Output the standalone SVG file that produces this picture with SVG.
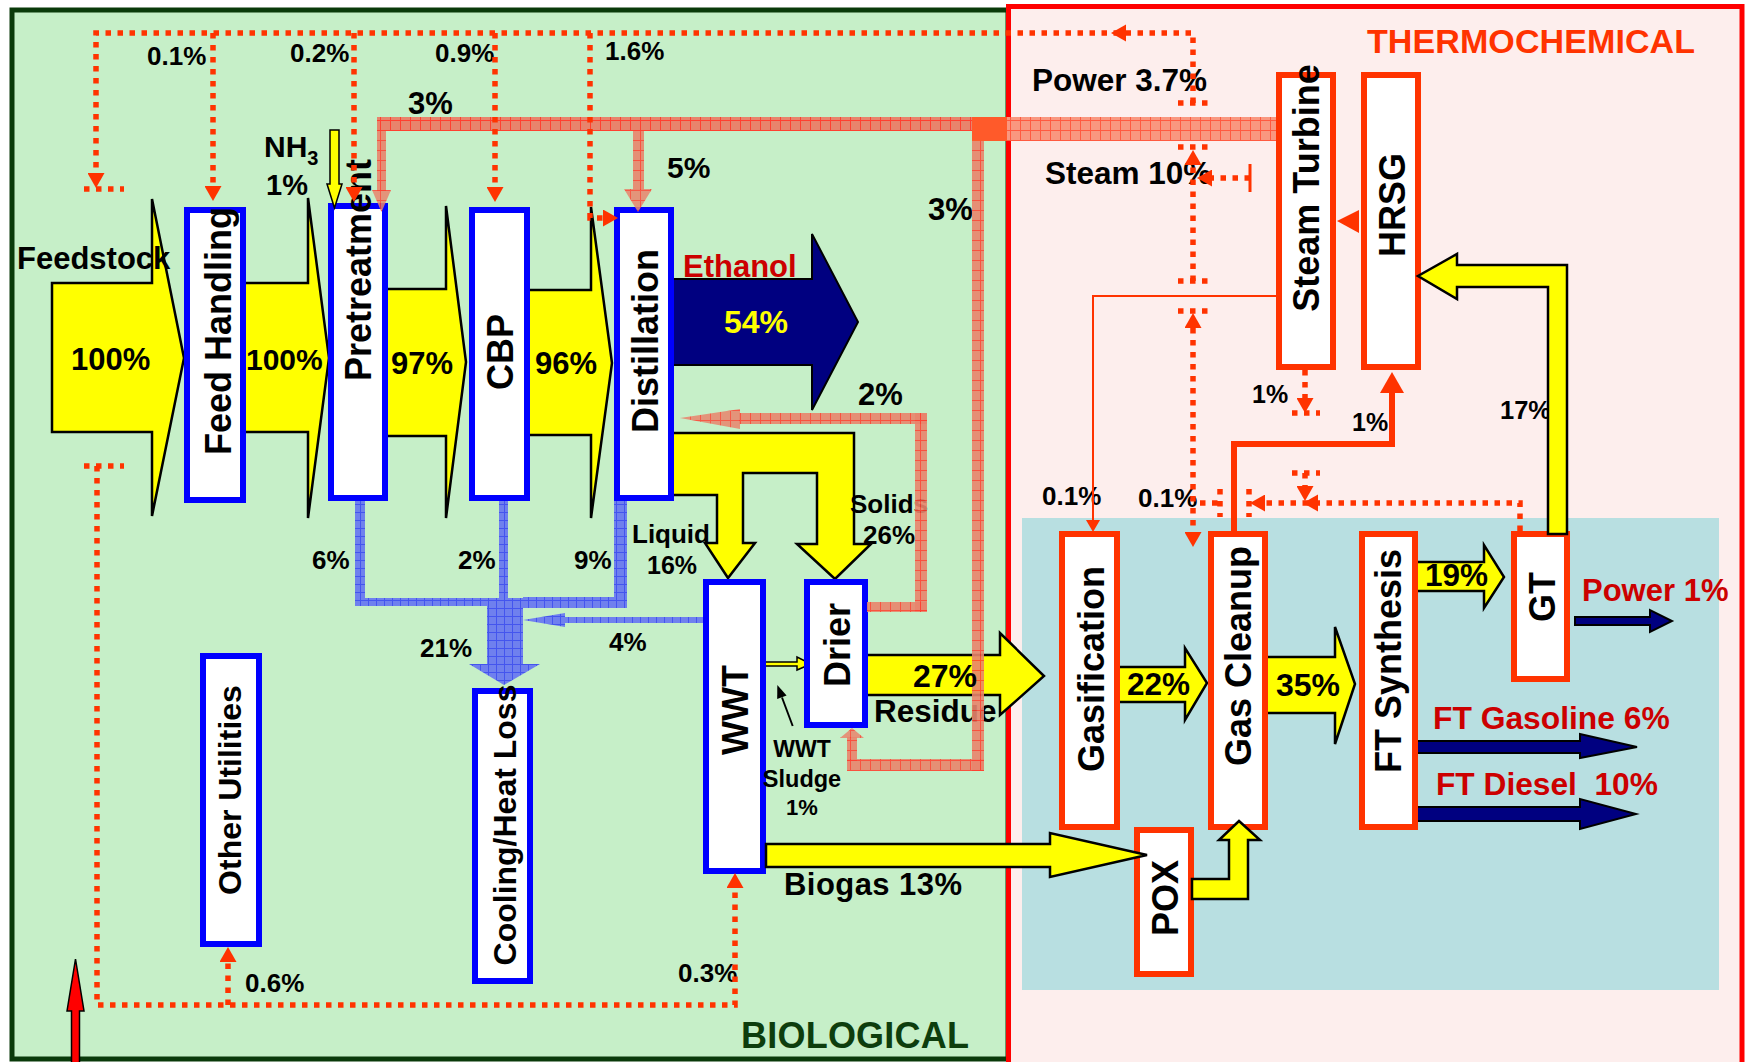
<svg xmlns="http://www.w3.org/2000/svg" width="1745" height="1062" viewBox="0 0 1745 1062">
<defs>
<style>
.nb{fill:#fff;stroke:#0000ff;stroke-width:6}
.nr{fill:#fff;stroke:#ff3300;stroke-width:6}
.nl{font-family:"Liberation Sans",Arial,sans-serif;font-weight:bold;font-size:36px;fill:#000;text-anchor:middle}
.t{font-family:"Liberation Sans",Arial,sans-serif;font-weight:bold;fill:#000}
.rd{fill:#cc0000}
.y{fill:#ffff00;stroke:#000;stroke-width:2.5}
.nv{fill:#000080;stroke:#000;stroke-width:2}
.dot{fill:none;stroke:#ff3300;stroke-width:5.5;stroke-dasharray:5.5 6.5}
.ah{fill:#ff3300}
.sol{fill:none;stroke:#ff3300}
.steam{fill:url(#hR)}
.steam2{fill:url(#hR2)}
.cool{fill:url(#hB)}
</style>
<pattern id="hR" width="10" height="10" patternUnits="userSpaceOnUse"><rect width="10" height="10" fill="#e8846c"/><path d="M0,0.5H10M0.5,0V10" stroke="#ff4030" stroke-width="1"/></pattern>
<pattern id="hR2" width="10" height="10" patternUnits="userSpaceOnUse"><rect width="10" height="10" fill="#f9977f"/><path d="M0,0.5H10M0.5,0V10" stroke="#ff5a40" stroke-width="1"/></pattern>
<pattern id="hB" width="8" height="8" patternUnits="userSpaceOnUse"><rect width="8" height="8" fill="#6f80ee"/><path d="M0,0.5H8M0.5,0V8" stroke="#4455ee" stroke-width="1"/></pattern>
<marker id="da" viewBox="0 0 15 17" markerWidth="15" markerHeight="17" refX="0" refY="8.5" orient="auto-start-reverse" markerUnits="userSpaceOnUse"><path d="M0,0L15,8.5L0,17z" fill="#ff3300"/></marker>
<marker id="sa" viewBox="0 0 12 14" markerWidth="12" markerHeight="14" refX="0" refY="7" orient="auto" markerUnits="userSpaceOnUse"><path d="M0,0L12,7L0,14z" fill="#ff3300"/></marker>
</defs>
<rect width="1745" height="1062" fill="#fff"/>
<g id="regions">
<rect x="12" y="10" width="996" height="1049" fill="#c6efc8" stroke="#0a3a0a" stroke-width="5"/>
<rect x="1008.5" y="6.5" width="733.5" height="1070" fill="#fdeeed" stroke="#ff0000" stroke-width="5"/>
<rect x="1022" y="518" width="697" height="472" fill="#b8dfe1"/>
<text class="t" x="741" y="1048" font-size="36" style="fill:#0d3d0d" textLength="228">BIOLOGICAL</text>
<text class="t" x="1367" y="53" font-size="34" style="fill:#ff3300" textLength="328">THERMOCHEMICAL</text>
</g>
<g id="connectors-under">
<polygon class="y" points="52,283 152,283 152,199 184,358 152,516 152,432 52,432"/>
<polygon class="y" points="244,283 308,283 308,198 329,358 308,518 308,432 244,432"/>
<polygon class="y" points="385,289 446,289 446,206 466,362 446,518 446,436 385,436"/>
<polygon class="y" points="528,290 591,290 591,207 612,363 591,518 591,435 528,435"/>
<polygon class="nv" points="672,279 812,279 812,234 858,322 812,410 812,365 672,365"/>
<polygon class="y" points="672,433 854,433 854,544 871,544 835,579 797,544 817,544 817,473 743,473 743,543 755,543 728,578 705,543 717,543 717,495 672,495"/>
<polygon class="y" points="866,655 1000,655 1000,633 1044,676 1000,715 1000,695 866,695"/>
<polygon class="y" points="1118,667 1185,667 1185,648 1207,683 1185,720 1185,702 1118,702"/>
<polygon class="y" points="1266,657 1335,657 1335,627 1355,684 1335,744 1335,713 1266,713"/>
<polygon class="y" points="1416,562 1484,562 1484,545 1504,577 1484,608 1484,591 1416,591"/>
<polygon class="nv" points="1575,617 1650,617 1650,610 1672,621 1650,632 1650,625 1575,625"/>
<polygon class="nv" points="1416,741 1580,741 1580,734 1637,747 1580,758 1580,753 1416,753"/>
<polygon class="nv" points="1416,807 1580,807 1580,799 1636,814 1580,829 1580,821 1416,821"/>
<polygon class="y" style="stroke-width:1.5" points="764,662 797,662 797,657 811,664 797,670 797,666 764,666"/>
</g>
<g id="nodes">
<g id="feed-handling"><rect class="nb" x="187" y="210" width="56" height="290"/><text class="nl" transform="translate(231,331) rotate(-90)">Feed Handling</text></g>
<g id="pretreatment"><rect class="nb" x="331" y="206" width="54" height="292"/><text class="nl" transform="translate(371,270) rotate(-90)">Pretreatment</text></g>
<g id="cbp"><rect class="nb" x="472" y="210" width="55" height="288"/><text class="nl" transform="translate(513,352) rotate(-90)">CBP</text></g>
<g id="distillation"><rect class="nb" x="617" y="210" width="54" height="288"/><text class="nl" transform="translate(658,341) rotate(-90)">Distillation</text></g>
<g id="other-utilities"><rect class="nb" x="203" y="656" width="56" height="288"/><text class="nl" style="font-size:32px" transform="translate(241,790) rotate(-90)">Other Utilities</text></g>
<g id="cooling-heat-loss"><rect class="nb" x="475" y="691" width="55" height="290"/><text class="nl" style="font-size:32px" transform="translate(516,825) rotate(-90)">Cooling/Heat Loss</text></g>
<g id="wwt"><rect class="nb" x="706" y="582" width="57" height="289"/><text class="nl" transform="translate(748,710) rotate(-90)">WWT</text></g>
<g id="drier"><rect class="nb" x="807" y="582" width="58" height="143"/><text class="nl" transform="translate(850,645) rotate(-90)">Drier</text></g>
<g id="steam-turbine"><rect class="nr" x="1279" y="75" width="54" height="292"/><text class="nl" transform="translate(1319,188) rotate(-90)">Steam Turbine</text></g>
<g id="hrsg"><rect class="nr" x="1364" y="75" width="54" height="292"/><text class="nl" transform="translate(1405,205) rotate(-90)">HRSG</text></g>
<g id="gasification"><rect class="nr" x="1062" y="534" width="55" height="293"/><text class="nl" transform="translate(1104,669) rotate(-90)">Gasification</text></g>
<g id="gas-cleanup"><rect class="nr" x="1211" y="534" width="54" height="293"/><text class="nl" transform="translate(1251,656) rotate(-90)">Gas Cleanup</text></g>
<g id="ft-synthesis"><rect class="nr" x="1362" y="534" width="53" height="293"/><text class="nl" transform="translate(1401,661) rotate(-90)">FT Synthesis</text></g>
<g id="gt"><rect class="nr" x="1514" y="534" width="53" height="145"/><text class="nl" transform="translate(1555,597) rotate(-90)">GT</text></g>
<g id="pox"><rect class="nr" x="1137" y="830" width="54" height="144"/><text class="nl" transform="translate(1178,898) rotate(-90)">POX</text></g>
</g>
<g id="labels">
<text class="t" x="17" y="269" font-size="31">Feedstock</text>
<text class="t" x="147" y="65" font-size="26">0.1%</text>
<text class="t" x="290" y="62" font-size="26">0.2%</text>
<text class="t" x="435" y="62" font-size="26">0.9%</text>
<text class="t" x="605" y="60" font-size="26">1.6%</text>
<text class="t" x="408" y="114" font-size="31">3%</text>
<text class="t" x="264" y="157" font-size="30">NH<tspan font-size="20" dy="8">3</tspan></text>
<text class="t" x="266" y="195" font-size="29">1%</text>
<text class="t" x="667" y="178" font-size="30">5%</text>
<text class="t" x="928" y="220" font-size="31">3%</text>
<text class="t rd" x="683" y="277" font-size="31">Ethanol</text>
<text class="t" x="858" y="405" font-size="31">2%</text>
<text class="t" x="632" y="543" font-size="26">Liquid</text>
<text class="t" x="647" y="574" font-size="25">16%</text>
<text class="t" x="850" y="513" font-size="26">Solids</text>
<text class="t" x="863" y="544" font-size="26">26%</text>
<text class="t" x="312" y="569" font-size="26">6%</text>
<text class="t" x="458" y="569" font-size="26">2%</text>
<text class="t" x="574" y="569" font-size="26">9%</text>
<text class="t" x="420" y="657" font-size="26">21%</text>
<text class="t" x="609" y="651" font-size="26">4%</text>
<text class="t" x="802" y="757" font-size="23" text-anchor="middle">WWT</text>
<text class="t" x="802" y="787" font-size="23.5" text-anchor="middle">Sludge</text>
<text class="t" x="802" y="815" font-size="22" text-anchor="middle">1%</text>
<text class="t" x="874" y="722" font-size="31.5">Residue</text>
<text class="t" x="784" y="895" font-size="31" textLength="178">Biogas 13%</text>
<text class="t" x="245" y="992" font-size="26">0.6%</text>
<text class="t" x="678" y="982" font-size="26">0.3%</text>
<text class="t" x="1032" y="91" font-size="31.5">Power 3.7%</text>
<text class="t" x="1045" y="184" font-size="31.5">Steam 10%</text>
<text class="t" x="1042" y="505" font-size="26">0.1%</text>
<text class="t" x="1138" y="507" font-size="26">0.1%</text>
<text class="t" x="1252" y="403" font-size="25">1%</text>
<text class="t" x="1352" y="431" font-size="25">1%</text>
<text class="t" x="1500" y="419" font-size="25.5">17%</text>
<text class="t rd" x="1582" y="601" font-size="31">Power 1%</text>
<text class="t rd" x="1433" y="729" font-size="31.8">FT Gasoline 6%</text>
<text class="t rd" x="1436" y="795" font-size="31.7" xml:space="preserve">FT Diesel  10%</text>
</g>
<g id="connectors">
<g id="steam-flows">
<rect class="steam" x="377" y="117" width="596" height="14"/>
<rect class="steam" x="377" y="117" width="9" height="74" opacity="0.9"/>
<polygon class="steam" opacity="0.85" points="372,190 391,190 381.5,212"/>
<rect class="steam" x="633" y="117" width="11" height="73" opacity="0.9"/>
<polygon class="steam" opacity="0.85" points="624,189 652,189 638,212"/>
<rect class="steam2" x="984" y="117" width="292" height="24"/>
<rect class="steam" x="972" y="117" width="12" height="654" opacity="0.9"/>
<rect x="972" y="117" width="35" height="24" fill="#ff5a2a"/>
<rect class="steam" x="847" y="759" width="137" height="12" opacity="0.9"/>
<rect class="steam" x="847" y="737" width="10" height="24" opacity="0.9"/>
<polygon class="steam" opacity="0.85" points="840,738 864,738 852,728"/>
<rect class="steam" x="867" y="602" width="60" height="10" opacity="0.9"/>
<rect class="steam" x="915" y="413" width="12" height="199" opacity="0.9"/>
<rect class="steam" x="739" y="413" width="188" height="11" opacity="0.9"/>
<polygon class="steam" opacity="0.85" points="740,409 740,429 680,418"/>
</g>
<g id="cooling-flows">
<rect class="cool" x="355" y="501" width="10" height="102"/>
<rect class="cool" x="499" y="501" width="9" height="100"/>
<rect class="cool" x="614" y="501" width="13" height="105"/>
<rect class="cool" x="355" y="598" width="168" height="8"/>
<rect class="cool" x="523" y="597" width="104" height="11"/>
<rect class="cool" x="487" y="598" width="36" height="66"/>
<polygon class="cool" points="469,664 540,664 504,685"/>
<rect class="cool" x="560" y="617" width="143" height="6"/>
<polygon class="cool" points="565,613 565,627 523,620"/>
</g>
<g id="dotted-flows">
<path class="dot" d="M1193,103V33H96V173" marker-end="url(#da)"/>
<polygon class="ah" points="1111,33 1126,24.5 1126,41.5"/>
<path class="dot" d="M213,33V186" marker-end="url(#da)"/>
<path class="dot" d="M354,33V187" marker-end="url(#da)"/>
<path class="dot" d="M495,33V187" marker-end="url(#da)"/>
<path class="dot" d="M590,33V218H603" marker-end="url(#da)"/>
<path class="dot" d="M84,189H124M84,466H124"/>
<path class="dot" d="M97,466V1005H735V888" marker-end="url(#da)"/>
<path class="dot" d="M228,1005V962" marker-end="url(#da)"/>
<path class="dot" d="M1178,103H1208M1178,147H1208M1178,281H1208M1178,311H1208"/>
<path class="dot" d="M1193,281V165" marker-end="url(#da)"/>
<path class="dot" d="M1250,178H1212" marker-end="url(#da)"/>
<path class="dot" d="M1193,328V532" marker-start="url(#da)" marker-end="url(#da)"/>
<path class="dot" d="M1305,370V398" marker-end="url(#da)"/>
<path class="dot" d="M1292,413H1320M1292,473H1320"/>
<path class="dot" d="M1520,531V503H1265" marker-end="url(#da)"/>
<polygon class="ah" points="1303,503 1318,494.5 1318,511.5"/>
<path class="dot" d="M1305,473V486" marker-end="url(#da)"/>
<path class="dot" d="M1220,489V517M1249,489V517M1200,503H1220"/>
</g>
<g id="solid-flows">
<path class="sol" stroke-width="3" d="M1250,164V192"/>
<path class="sol" stroke-width="2" d="M1276,296H1093V520" marker-end="url(#sa)"/>
<path class="sol" stroke-width="6" d="M1234,531V444H1392V392"/>
<polygon class="ah" points="1380,393 1404,393 1392,372"/>
<polygon class="ah" points="1359,210 1359,233 1337,221"/>
</g>
<g id="connectors-over">
<polygon class="y" points="766,844 1050,844 1050,833 1147,855 1050,877 1050,867 766,867"/>
<polygon class="y" points="1192,879 1229,879 1229,840 1219,840 1239,821 1260,840 1248,840 1248,899 1192,899"/>
<polygon class="y" points="1567,534 1567,265 1457,265 1457,254 1418,276 1457,299 1457,287 1548,287 1548,534"/>
<polygon class="y" style="stroke-width:1.5" points="330,130 339,130 339,184 342,184 334.5,208 327,184 330,184"/>
<line x1="792.7" y1="726" x2="782" y2="697.5" stroke="#000" stroke-width="2"/>
<polygon points="777.3,685 786.6,695.4 777.2,699" fill="#000"/>
<polygon points="75.5,959 84,1011 79.5,1011 79.5,1066 71.5,1066 71.5,1011 67,1011" fill="#ff0000" stroke="#000" stroke-width="1.5"/>
</g>
</g>
<g id="flow-values">
<text class="t" x="71" y="370" font-size="31">100%</text>
<text class="t" x="246" y="370" font-size="30">100%</text>
<text class="t" x="391" y="374" font-size="31">97%</text>
<text class="t" x="535" y="374" font-size="31">96%</text>
<text class="t" x="724" y="333" font-size="32" style="fill:#ffff00">54%</text>
<text class="t" x="913" y="687" font-size="32">27%</text>
<text class="t" x="1127" y="695" font-size="31.5">22%</text>
<text class="t" x="1276" y="696" font-size="32">35%</text>
<text class="t" x="1425" y="586" font-size="31.5">19%</text>
</g>
</svg>
